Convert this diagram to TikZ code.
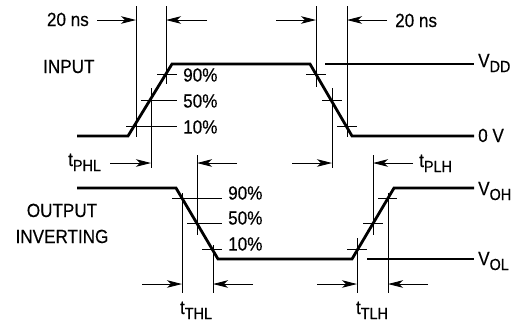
\documentclass[tikz,border=0pt]{standalone}
\usepackage{fontspec}
\setmainfont[FakeStretch=0.9,FakeBold=0.4]{Liberation Sans}
\usetikzlibrary{arrows.meta,calc,positioning}

\newcommand{\lowsub}[1]{\raisebox{-5pt}{\fontsize{16}{16}\selectfont #1}}

\begin{document}
\begin{tikzpicture}[x=1pt,y=-1pt]
      \tikzset{wave/.style={line width=2.8pt},
        guide/.style={line width=0.9pt},
        dim/.style={guide,-{Stealth[length=15pt,width=7.5pt,inset=4pt]}},
        txt/.style={inner sep=0pt,font=\fontsize{19}{22}\selectfont}
      }
      \useasboundingbox (0,0) rectangle (521,322);

      % crossing points of the edges
      \coordinate (ir10) at (136,126); \coordinate (ir50) at (151,100); \coordinate (ir90) at (166,74);
      \coordinate (if90) at (316,74);  \coordinate (if50) at (332,100); \coordinate (if10) at (347,126);
      \coordinate (of90) at (182,198); \coordinate (of50) at (197,223); \coordinate (of10) at (213,249);
      \coordinate (or10) at (357,249); \coordinate (or50) at (373,223); \coordinate (or90) at (388,198);

      % waveforms
      \draw [wave] (77,136)--(128,136)--(172,64)--(310,64)--(352,136)--(474,136);
      \draw [wave] (325,64)--(474,64);
      \draw [wave] (77,188)--(176,188)--(218,259)--(352,259)--(394,188)--(474,188);
      \draw [wave] (367,259)--(474,259);

      % level ticks
      \draw [guide] (157,74)--(177,74);  \draw [guide] (141,100)--(177,100); \draw [guide] (126,126)--(177,126);
      \draw [guide] (306,74)--(326,74);  \draw [guide] (322,100)--(342,100); \draw [guide] (337,126)--(357,126);
      \draw [guide] (172,198)--(222,198); \draw [guide] (187,223)--(222,223); \draw [guide] (202,249)--(222,249);
      \draw [guide] (347,249)--(367,249); \draw [guide] (363,223)--(383,223); \draw [guide] (378,198)--(397,198);

      % verticals
      \draw [guide] (ir10 |- 0,6)--($(ir10)+(0,11)$);
      \draw [guide] (ir90 |- 0,6)--($(ir90)+(0,10)$);
      \draw [guide] ($(ir50)+(0,-12)$)--($(ir50)+(0,68)$);
      \draw [guide] (if90 |- 0,6)--($(if90)+(0,13)$);
      \draw [guide] (if10 |- 0,6)--($(if10)+(0,11)$);
      \draw [guide] ($(if50)+(0,-12)$)--($(if50)+(0,68)$);
      \draw [guide] ($(of90)+(0,-5)$)--($(of90)+(0,95)$);
      \draw [guide] ($(of50)+(0,-68)$)--($(of50)+(0,12)$);
      \draw [guide] ($(of10)+(0,-4)$)--($(of10)+(0,44)$);
      \draw [guide] ($(or90)+(0,-5)$)--($(or90)+(0,95)$);
      \draw [guide] ($(or50)+(0,-68)$)--($(or50)+(0,12)$);
      \draw [guide] ($(or10)+(0,-11)$)--($(or10)+(0,44)$);

      % arrows
      \coordinate (a1) at (97,20);   \draw [dim] (a1)--(a1 -| ir10);
      \coordinate (a2) at (207,20);  \draw [dim] (a2)--(a2 -| ir90);
      \coordinate (a3) at (276,20);  \draw [dim] (a3)--(a3 -| if90);
      \coordinate (a4) at (387,20);  \draw [dim] (a4)--(a4 -| if10);
      \coordinate (b1) at (110,163); \draw [dim] (b1)--(b1 -| ir50);
      \coordinate (b2) at (237,163); \draw [dim] (b2)--(b2 -| of50);
      \coordinate (b3) at (292,163); \draw [dim] (b3)--(b3 -| if50);
      \coordinate (b4) at (413,163); \draw [dim] (b4)--(b4 -| or50);
      \coordinate (c1) at (142,284); \draw [dim] (c1)--(c1 -| of90);
      \coordinate (c2) at (253,284); \draw [dim] (c2)--(c2 -| of10);
      \coordinate (c3) at (317,284); \draw [dim] (c3)--(c3 -| or10);
      \coordinate (c4) at (428,284); \draw [dim] (c4)--(c4 -| or90);

      % labels
      \node [txt,anchor=base east] (nsL) at (89,26) {20 ns};
      \node [txt,anchor=base west] (nsR) at (395,27) {20 ns};
      \node [txt,anchor=base west] (input) at (43,73) {INPUT};
      \node [txt,anchor=base] (output) at (62,217) {OUTPUT};
      \node [txt,anchor=base] (inverting) at (62,243) {INVERTING};
      \node [txt,anchor=west] (ir90t) at (183,75) {90\%};
      \node [txt,anchor=west] (ir50t) at (183,101) {50\%};
      \node [txt,anchor=west] (ir10t) at (183,127) {10\%};
      \node [txt,anchor=west] (of90t) at (228,193) {90\%};
      \node [txt,anchor=west] (of50t) at (228,218) {50\%};
      \node [txt,anchor=west] (of10t) at (228,244) {10\%};
      \node [txt,anchor=base west] (vdd) at (478,67) {V\lowsub{DD}};
      \node [txt,anchor=base west] (zero) at (478,142) {0 V};
      \node [txt,anchor=base west] (voh) at (478,195) {V\lowsub{OH}};
      \node [txt,anchor=base west] (vol) at (478,265) {V\lowsub{OL}};
      \node [txt,anchor=base west] (tphl) at (68,166) {t\lowsub{PHL}};
      \node [txt,anchor=base west] (tplh) at (419,167) {t\lowsub{PLH}};
      \node [txt,anchor=base] (tthl) at (196,314) {t\lowsub{THL}};
      \node [txt,anchor=base] (ttlh) at (372,314) {t\lowsub{TLH}};

    \end{tikzpicture}
\end{document}
